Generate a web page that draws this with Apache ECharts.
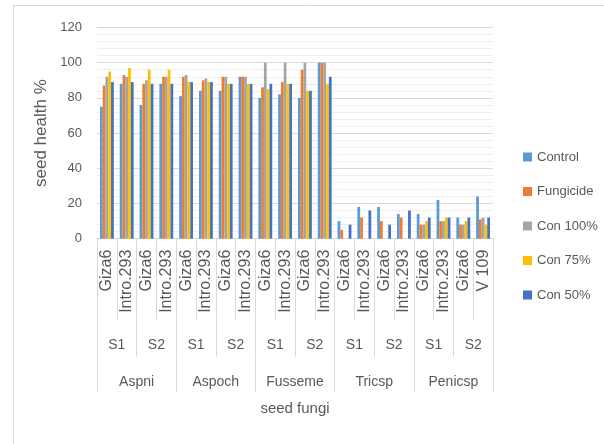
<!DOCTYPE html>
<html>
<head>
<meta charset="utf-8">
<title>seed health %</title>
<script src="https://cdn.jsdelivr.net/npm/echarts@6/dist/echarts.min.js"></script>
<style>
  html, body { margin: 0; padding: 0; background: #ffffff; }
  #chart { width: 604px; height: 444px; }
</style>
</head>
<body>
<div id="chart"></div>
<script>
// Varieties (innermost level), seasons (middle level), fungi (outer level)
const varieties = [
  'Giza6', 'Intro.293', 'Giza6', 'Intro.293',
  'Giza6', 'Intro.293', 'Giza6', 'Intro.293',
  'Giza6', 'Intro.293', 'Giza6', 'Intro.293',
  'Giza6', 'Intro.293', 'Giza6', 'Intro.293',
  'Giza6', 'Intro.293', 'Giza6', 'V 109'
];
const seasons = ['S1', 'S2', 'S1', 'S2', 'S1', 'S2', 'S1', 'S2', 'S1', 'S2'];
const fungi = ['Aspni', 'Aspoch', 'Fusseme', 'Tricsp', 'Penicsp'];

// Seed health % per treatment, one value per variety/season/fungus cell
const control   = [75, 88, 76, 88, 81, 84, 84, 92, 80, 82, 80, 100, 10, 18, 18, 14, 14, 22, 12, 24];
const fungicide = [87, 93, 88, 92, 92, 90, 92, 92, 86, 89, 96, 100,  5, 12, 10, 12,  8, 10,  8, 11];
const con100    = [92, 92, 90, 92, 93, 91, 92, 92, 100, 100, 100, 100, 0, 0, 0, 0, 8, 10, 8, 12];
const con75     = [95, 97, 96, 96, 89, 89, 88, 88, 85, 88, 84, 88,  0,  0,  0,  0, 10, 12, 10,  8];
const con50     = [89, 89, 88, 88, 89, 89, 88, 88, 88, 88, 84, 92,  8, 16,  8, 16, 12, 12, 12, 12];

const yTicks = { min: 0, max: 120, interval: 20 };

const seriesDefs = [
  { name: 'Control',   data: control,   color: '#5B9BD5' },
  { name: 'Fungicide', data: fungicide, color: '#ED7D31' },
  { name: 'Con 100%',  data: con100,    color: '#A5A5A5' },
  { name: 'Con 75%',   data: con75,     color: '#FFC000' },
  { name: 'Con 50%',   data: con50,     color: '#4472C4' }
];

const font = "'Liberation Sans', Arial, sans-serif";
const txt = '#595959';
const sep = '#d9d9d9';

const chart = echarts.init(document.getElementById('chart'), null, { renderer: 'canvas' });

chart.setOption({
  animation: false,
  backgroundColor: '#ffffff',
  graphic: [{
    type: 'rect',
    silent: true,
    shape: { x: 13.5, y: 5.5, width: 600, height: 450 },
    style: { fill: 'none', stroke: sep, lineWidth: 1 }
  }],
  grid: { left: 97, right: 111, top: 27.5, bottom: 205.3, containLabel: false },
  legend: {
    orient: 'vertical',
    left: 518,
    top: 144,
    icon: 'rect',
    itemWidth: 9,
    itemHeight: 9,
    itemGap: 18.5,
    textStyle: { color: txt, fontFamily: font, fontSize: 13, lineHeight: 16 },
    data: seriesDefs.map(s => s.name)
  },
  xAxis: [
    {
      type: 'category',
      data: varieties,
      boundaryGap: true,
      axisLine: { show: true, lineStyle: { color: sep, width: 1 } },
      axisTick: { show: true, length: 81, lineStyle: { color: sep } },
      axisLabel: {
        interval: 0, rotate: 90, margin: 11,
        color: txt, fontFamily: font, fontSize: 16
      },
      splitLine: { show: false }
    },
    {
      type: 'category',
      data: seasons,
      boundaryGap: true,
      position: 'bottom',
      offset: 81,
      axisLine: { show: false },
      axisTick: { show: true, length: 37, lineStyle: { color: sep } },
      axisLabel: {
        interval: 0, margin: 25, verticalAlign: 'middle',
        color: txt, fontFamily: font, fontSize: 14
      },
      splitLine: { show: false }
    },
    {
      type: 'category',
      data: fungi,
      boundaryGap: true,
      position: 'bottom',
      offset: 118,
      axisLine: { show: false },
      axisTick: { show: true, length: 36, lineStyle: { color: sep } },
      axisLabel: {
        interval: 0, margin: 25, verticalAlign: 'middle',
        color: txt, fontFamily: font, fontSize: 14
      },
      name: 'seed fungi',
      nameLocation: 'middle',
      nameGap: 45,
      nameTextStyle: { color: txt, fontFamily: font, fontSize: 15 },
      splitLine: { show: false }
    }
  ],
  yAxis: {
    type: 'value',
    min: yTicks.min,
    max: yTicks.max,
    interval: yTicks.interval,
    name: 'seed health %',
    nameLocation: 'middle',
    nameGap: 35,
    nameTextStyle: { color: txt, fontFamily: font, fontSize: 17 },
    axisLine: { show: false },
    axisTick: { show: false },
    axisLabel: { color: txt, fontFamily: font, fontSize: 13, margin: 15 },
    splitLine: { show: true, lineStyle: { color: sep, width: 1 } },
    minorTick: { show: false, splitNumber: 5 },
    minorSplitLine: { show: true, lineStyle: { color: '#efefef', width: 1 } }
  },
  series: seriesDefs.map(s => ({
    name: s.name,
    type: 'bar',
    xAxisIndex: 0,
    data: s.data,
    barGap: '0%',
    barCategoryGap: '30%',
    itemStyle: { color: s.color }
  }))
});
</script>
</body>
</html>
